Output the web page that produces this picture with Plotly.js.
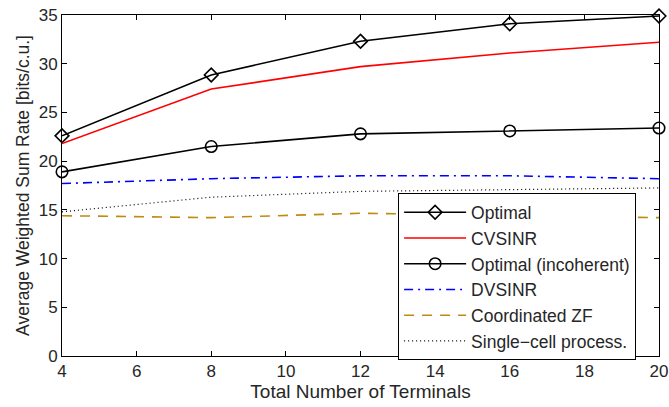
<!DOCTYPE html>
<html><head><meta charset="utf-8">
<script src="https://cdn.plot.ly/plotly-3.0.1.min.js"></script>
<style>html,body{margin:0;padding:0;background:#fff}#chart{width:669px;height:407px}</style>
</head><body><div id="chart"></div>
<script>
const terminals = [4, 8, 12, 16, 20];
const optimal = [22.6, 28.85, 32.3, 34.1, 34.9];
const cvsinr = [21.8, 27.4, 29.7, 31.1, 32.2];
const optimalIncoherent = [18.9, 21.5, 22.8, 23.1, 23.4];
const dvsinr = [17.7, 18.2, 18.5, 18.5, 18.2];
const coordinatedZF = [14.4, 14.2, 14.65, 14.4, 14.2];
const singleCell = [14.8, 16.3, 16.9, 17.1, 17.25];
const xTicks = [4, 6, 8, 10, 12, 14, 16, 18, 20];
const yTicks = [0, 5, 10, 15, 20, 25, 30, 35];

const traces = [
  {x: terminals, y: optimal, name: 'Optimal', mode: 'lines+markers', cliponaxis: false,
   line: {color: '#000', width: 1.6}, marker: {symbol: 'diamond-open', size: 10.5, color: '#000', line: {width: 1.6, color: '#000'}}},
  {x: terminals, y: cvsinr, name: 'CVSINR', mode: 'lines',
   line: {color: '#ff0000', width: 1.6}},
  {x: terminals, y: optimalIncoherent, name: 'Optimal (incoherent)', mode: 'lines+markers', cliponaxis: false,
   line: {color: '#000', width: 1.6}, marker: {symbol: 'circle-open', size: 11.5, color: '#000', line: {width: 1.6, color: '#000'}}},
  {x: terminals, y: dvsinr, name: 'DVSINR', mode: 'lines',
   line: {color: '#0000ff', width: 1.6, dash: '9px,5px,2px,5px'}},
  {x: terminals, y: coordinatedZF, name: 'Coordinated ZF', mode: 'lines',
   line: {color: '#c08a10', width: 1.6, dash: '10px,8px'}},
  {x: terminals, y: singleCell, name: 'Single\u2212cell process.', mode: 'lines',
   line: {color: '#000', width: 1.2, dash: '1px,3px'}}
];

const fam = 'Liberation Sans, Arial, Helvetica, sans-serif';
const font = {family: fam, size: 17, color: '#262626'};
const layout = {
  width: 669, height: 407,
  margin: {l: 62, r: 10, t: 15, b: 51},
  paper_bgcolor: '#fff', plot_bgcolor: '#fff',
  font: font,
  showlegend: true,
  xaxis: {range: [4, 20], tickvals: xTicks, ticktext: xTicks.map(String), ticks: 'inside', ticklen: 5,
    tickcolor: '#000', showline: true, linecolor: '#000', linewidth: 1, mirror: 'ticks', showgrid: false, zeroline: false,
    title: {text: 'Total Number of Terminals', font: {family: fam, size: 19, color: '#262626'}, standoff: 1}, tickfont: font},
  yaxis: {range: [0, 35], tickvals: yTicks, ticktext: yTicks.map(String), ticks: 'inside', ticklen: 5,
    tickcolor: '#000', showline: true, linecolor: '#000', linewidth: 1, mirror: 'ticks', showgrid: false, zeroline: false,
    title: {text: 'Average Weighted Sum Rate [bits/c.u.]', font: {family: fam, size: 17.5, color: '#262626'}, standoff: 4}, tickfont: font},
  legend: {x: 0.563, y: 0.477, xanchor: 'left', yanchor: 'top', bgcolor: '#fff', bordercolor: '#000', borderwidth: 1,
    font: {family: fam, size: 17.5, color: '#262626'}, tracegroupgap: 0, itemwidth: 62}
};
Plotly.newPlot('chart', traces, layout, {displayModeBar: false, staticPlot: true});
</script></body></html>
